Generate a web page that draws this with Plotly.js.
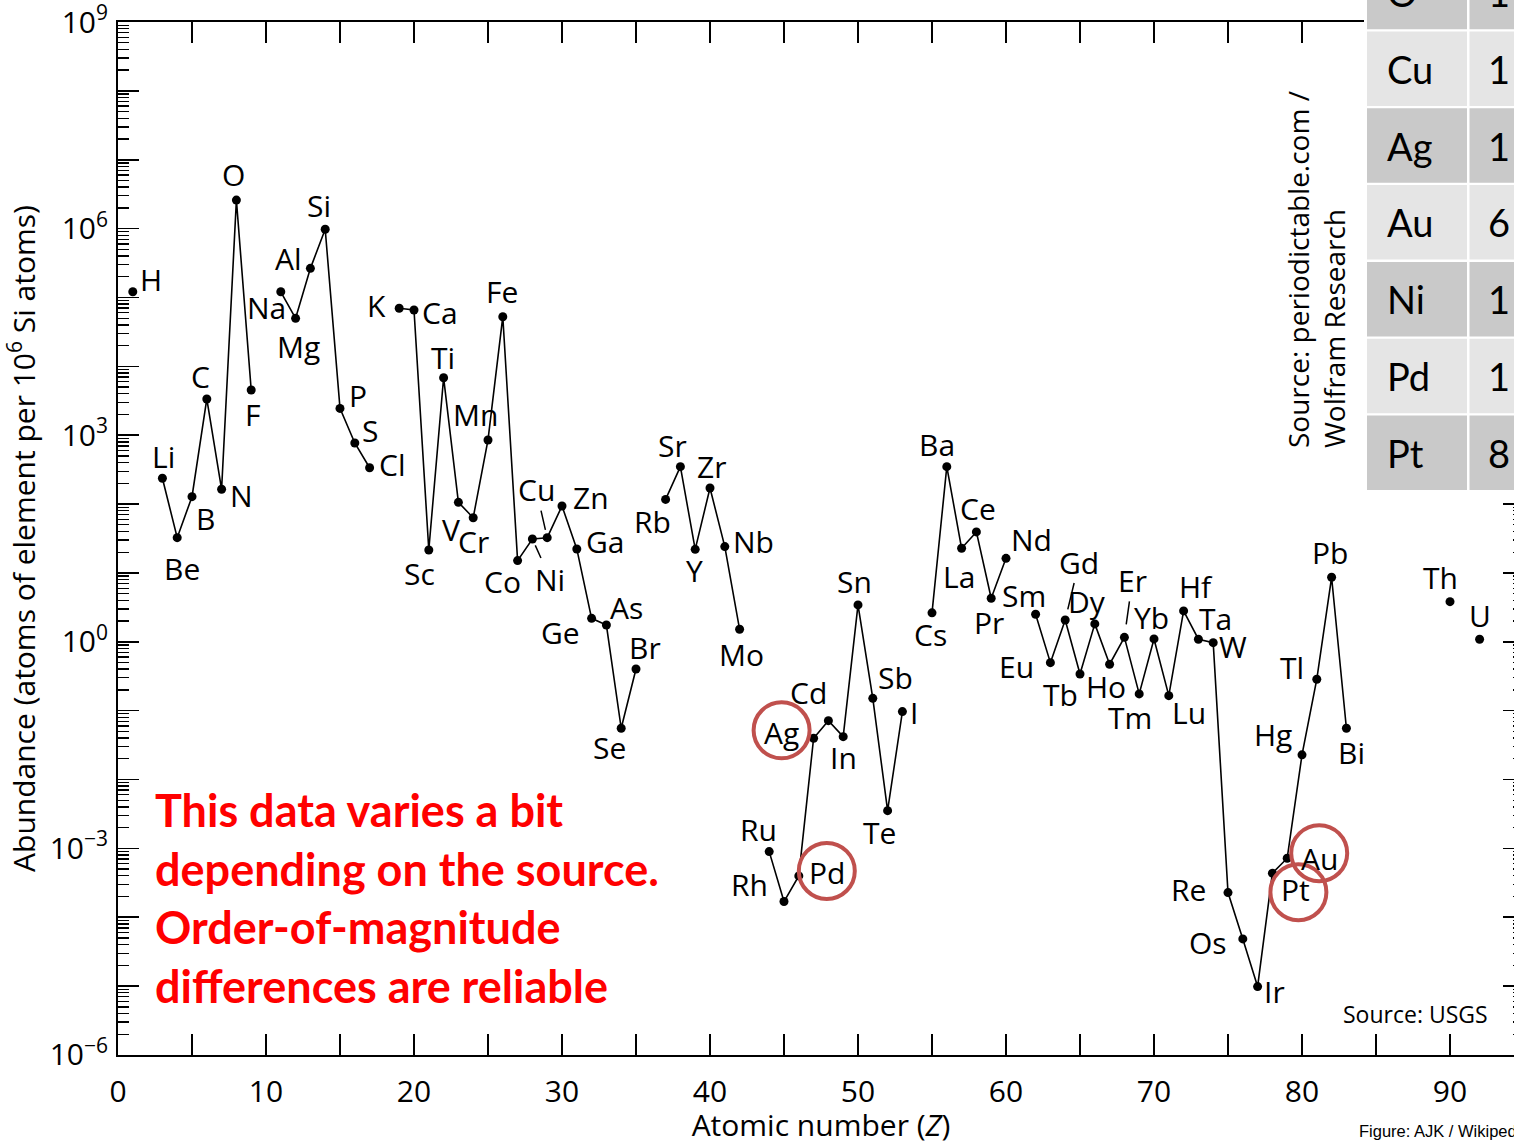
<!DOCTYPE html>
<html>
<head>
<meta charset="utf-8">
<script src="https://cdn.plot.ly/plotly-3.0.1.min.js"></script>
<style>
html,body{margin:0;padding:0;overflow:hidden;background:#fff;}
#chart{width:1530px;height:1145px;}
</style>
</head>
<body>
<div id="chart"></div>
<script>
// ---------------- DATA ----------------
const symbols = ['H','Li','Be','B','C','N','O','F','Na','Mg','Al','Si','P','S','Cl','K','Ca','Sc','Ti','V','Cr','Mn','Fe','Co','Ni','Cu','Zn','Ga','Ge','As','Se','Br','Rb','Sr','Y','Zr','Nb','Mo','Ru','Rh','Pd','Ag','Cd','In','Sn','Sb','Te','I','Cs','Ba','La','Ce','Pr','Nd','Sm','Eu','Gd','Tb','Dy','Ho','Er','Tm','Yb','Lu','Hf','Ta','W','Re','Os','Ir','Pt','Au','Hg','Tl','Pb','Bi','Th','U'];
const atomicNumber = [1,3,4,5,6,7,8,9,11,12,13,14,15,16,17,19,20,21,22,23,24,25,26,27,28,29,30,31,32,33,34,35,37,38,39,40,41,42,44,45,46,47,48,49,50,51,52,53,55,56,57,58,59,60,62,63,64,65,66,67,68,69,70,71,72,73,74,75,76,77,78,79,80,81,82,83,90,92];
const abundance = [1.21e5,237,32.5,128,3360,164,2.6e6,4540,1.21e5,4.98e4,2.65e5,9.8e5,2450,771,337,6.97e4,6.58e4,21.5,6840,106,63.4,853,5.26e4,15.1,31.1,32.5,93.8,22.3,2.19,1.75,0.0555,0.403,117,349,22.0,171,24.1,1.52,8.97e-4,1.69e-4,3.98e-4,0.0397,0.0716,0.0419,3.43,0.151,3.53e-3,0.0968,2.63,349,22.8,39.4,4.29,16.3,2.51,0.498,2.07,0.341,1.82,0.472,1.16,0.175,1.10,0.165,2.81,1.09,0.971,2.28e-4,4.84e-5,9.84e-6,4.36e-4,7.19e-4,0.0228,0.286,8.65,0.0555,3.83,1.09];
const highlighted = ['Ag','Pd','Au','Pt'];
const xTickVals = [0,10,20,30,40,50,60,70,80,90];
const yDecadeExponents = [-6,-5,-4,-3,-2,-1,0,1,2,3,4,5,6,7,8,9];
const yLabelledExponents = [-6,-3,0,3,6,9];
const tableElements = ['O','Cu','Ag','Au','Ni','Pd','Pt'];
const tableValues = ['1','1','1','6','1','1','8'];

// ---------------- STYLE ----------------
const FONT = 'Open Sans, Noto Sans, sans-serif';
const L = 118, R = 6, T = 22, B = 90, W = 1530, H = 1145;
const PW = W - L - R, PH = H - T - B;
const px2paperX = p => (p - L) / PW;
const px2paperY = p => (H - B - p) / PH;

// label offsets (pixels, dx right, dy down) relative to the point
const labelOffset = {
 H:[18,-12],Li:[1,-22],Be:[5,31],B:[13,22],C:[-6,-22],N:[20,6],O:[-3,-26],F:[1,25],
 Na:[-14,16],Mg:[3,28],Al:[-22,-10],Si:[-6,-24],P:[18,-13],S:[15,-12],Cl:[22,-3],
 K:[-23,-3],Ca:[26,2],Sc:[-9,23],Ti:[-1,-20],V:[-7,27],Cr:[0,24],Mn:[-13,-25],Fe:[-1,-25],
 Co:[-15,21],Zn:[29,-8],Ga:[28,-7],Ge:[-31,14],As:[20,-18],Se:[-12,19],Br:[9,-21],
 Rb:[-13,22],Sr:[-8,-21],Y:[-1,21],Zr:[1,-22],Nb:[29,-5],Mo:[2,25],
 Ru:[-11,-22],Rh:[-35,-17],Pd:[28,-3],Ag:[-32,-6],Cd:[-20,-28],In:[0,21],Sn:[-4,-23],
 Sb:[23,-21],Te:[-8,22],I:[12,1],Cs:[-2,22],Ba:[-10,-22],La:[-3,28],Ce:[2,-23],Pr:[-2,24],
 Nd:[25,-19],Sm:[-12,-19],Eu:[-34,4],Tb:[-20,21],Dy:[-8,-22],Ho:[-4,22],Tm:[-9,24],
 Yb:[-3,-21],Lu:[20,17],Hf:[12,-24],Ta:[17,-21],W:[20,4],Re:[-40,-3],Os:[-35,4],
 Ir:[17,5],Pt:[23,16],Au:[32,0],Hg:[-29,-20],Tl:[-25,-12],Pb:[-2,-25],Bi:[5,24],
 Th:[-10,-24],U:[0,-24]
};
// labels connected by short leader lines: [dx, dy, standoff]
const leaderLabels = {Cu:[-11,-48,8],Ni:[18,40,7],Gd:[14,-58,11],Er:[8,-57,13]};
// red circle centres relative to point
const circleOffset = {Ag:[-32,-8],Pd:[28,-5],Au:[32,-5],Pt:[26,19]};

// ---------------- BUILD ----------------
const lineX = [], lineY = [];
atomicNumber.forEach((z,i)=>{
  if(i>0 && z - atomicNumber[i-1] > 1){ lineX.push(null); lineY.push(null); }
  lineX.push(z); lineY.push(abundance[i]);
});

const trace = {
  type:'scatter', mode:'lines+markers', x:lineX, y:lineY,
  connectgaps:false,
  line:{color:'#000', width:1.6},
  marker:{color:'#000', size:9},
  hoverinfo:'skip', showlegend:false
};
// invisible helper trace on the linear (log10) companion axis
const helper = {type:'scatter', mode:'markers', x:atomicNumber, y:abundance.map(v=>Math.log10(v)),
  yaxis:'y2', marker:{opacity:0}, hoverinfo:'skip', showlegend:false};

const annotations = [];
symbols.forEach((s,i)=>{
  const x = atomicNumber[i], y = Math.log10(abundance[i]);
  if(leaderLabels[s]){
    const [dx,dy,so] = leaderLabels[s];
    annotations.push({x, y, xref:'x', yref:'y', text:s, showarrow:true, arrowhead:0,
      arrowwidth:1.5, arrowcolor:'#000', ax:dx, ay:dy, standoff:so, startstandoff:0,
      font:{family:FONT, size:30, color:'#000'}, xanchor:'center', yanchor:'middle', borderpad:0});
  } else {
    const [dx,dy] = labelOffset[s] || [0,-24];
    annotations.push({x, y, xref:'x', yref:'y', text:s, showarrow:false,
      xshift:dx, yshift:-dy, font:{family:FONT, size:30, color:'#000'},
      xanchor:'center', yanchor:'middle'});
  }
});

const shapes = [];
highlighted.forEach(s=>{
  const i = symbols.indexOf(s);
  const [cx,cy] = circleOffset[s];
  const r = 28;
  shapes.push({type:'circle', xref:'x', yref:'y2', xsizemode:'pixel', ysizemode:'pixel',
    xanchor:atomicNumber[i], yanchor:Math.log10(abundance[i]),
    x0:cx-r, x1:cx+r, y0:-cy-r, y1:-cy+r,
    line:{color:'#c0504d', width:4}, layer:'above'});
});

// table inset (top right)
shapes.push({type:'rect', xref:'paper', yref:'paper', x0:px2paperX(1364), x1:px2paperX(1545),
  y0:px2paperY(493), y1:px2paperY(-60), fillcolor:'#fff', line:{width:0}, layer:'above'});
const rowPitch = 76.8, rowH = 74.5, lastBottom = 490;
tableElements.forEach((el,k)=>{
  const bottom = lastBottom - (tableElements.length-1-k)*rowPitch;
  const top = bottom - rowH;
  const fill = (k%2===0) ? '#c9c9c9' : '#e5e5e5';
  shapes.push({type:'rect', xref:'paper', yref:'paper', x0:px2paperX(1367), x1:px2paperX(1467),
    y0:px2paperY(bottom), y1:px2paperY(top), fillcolor:fill, line:{width:0}, layer:'above'});
  shapes.push({type:'rect', xref:'paper', yref:'paper', x0:px2paperX(1469.5), x1:px2paperX(1545),
    y0:px2paperY(bottom), y1:px2paperY(top), fillcolor:fill, line:{width:0}, layer:'above'});
  const cyp = px2paperY((top+bottom)/2);
  annotations.push({xref:'paper', yref:'paper', x:px2paperX(1385), y:cyp, text:el, showarrow:false,
    xanchor:'left', yanchor:'middle', font:{family:'Lato, sans-serif', size:38, color:'#000'}});
  annotations.push({xref:'paper', yref:'paper', x:px2paperX(1486), y:cyp, text:tableValues[k], showarrow:false,
    xanchor:'left', yanchor:'middle', font:{family:'Lato, sans-serif', size:38, color:'#000'}});
});

// text notes
annotations.push({xref:'paper', yref:'paper', x:px2paperX(1316), y:px2paperY(270),
  text:'Source: periodictable.com /<br>Wolfram Research', textangle:-90, align:'left',
  showarrow:false, xanchor:'center', yanchor:'middle', font:{family:FONT, size:28, color:'#000'}});
annotations.push({xref:'paper', yref:'paper', x:px2paperX(1490), y:px2paperY(1014),
  text:'Source: USGS', showarrow:false, xanchor:'right', yanchor:'middle',
  font:{family:FONT, size:23, color:'#000'}});
annotations.push({xref:'paper', yref:'paper', x:px2paperX(1357), y:px2paperY(1131),
  text:'Figure: AJK / Wikipedia', showarrow:false, xanchor:'left', yanchor:'middle',
  font:{family:'Liberation Sans, Arial, sans-serif', size:16.5, color:'#000'}});
annotations.push({xref:'paper', yref:'paper', x:px2paperX(153), y:px2paperY(898),
  text:'This data varies a bit<br>depending on the source.<br>Order-of-magnitude<br>differences are reliable',
  showarrow:false, xanchor:'left', yanchor:'middle', align:'left',
  font:{family:'Lato, sans-serif', size:45, color:'#ff0000', weight:'bold'}});

// axes ticks
const yTickVals = yDecadeExponents.map(e=>Math.pow(10,e));
const yTickText = yDecadeExponents.map(e=> yLabelledExponents.includes(e) ?
  '10<sup>'+(e<0?'\u2212'+(-e):e)+'</sup>' : '');
const yMinorVals = [];
yDecadeExponents.slice(0,-1).forEach(e=>{ for(let k=2;k<=9;k++) yMinorVals.push(k*Math.pow(10,e)); });
const xMinorVals = xTickVals.map(v=>v+5);
const eps = 0.0008;

const layout = {
  width:W, height:H,
  margin:{l:L, r:R, t:T, b:B, autoexpand:false},
  paper_bgcolor:'#fff', plot_bgcolor:'#fff',
  font:{family:FONT, color:'#000'},
  showlegend:false,
  xaxis:{
    range:[0,95], tickvals:xTickVals, ticktext:xTickVals.map(String),
    ticks:'inside', ticklen:21, tickwidth:1.6, tickcolor:'#000',
    showline:true, linecolor:'#000', linewidth:2, mirror:'allticks',
    showgrid:false, zeroline:false,
    tickfont:{family:FONT, size:30, color:'#000'}, ticklabelstandoff:9,
    minor:{tickvals:xMinorVals, ticks:'inside', ticklen:11, tickwidth:1.6, tickcolor:'#000', showgrid:false},
    title:{text:'Atomic number (<i>Z</i>)', font:{family:FONT, size:30, color:'#000'}, standoff:17},
    automargin:false
  },
  yaxis:{
    type:'log', range:[-6-eps,9+eps], tickvals:yTickVals, ticktext:yTickText,
    ticks:'inside', ticklen:21, tickwidth:1.6, tickcolor:'#000',
    showline:true, linecolor:'#000', linewidth:2, mirror:'allticks',
    showgrid:false, zeroline:false, ticklabeloverflow:'allow',
    tickfont:{family:FONT, size:30, color:'#000'}, ticklabelstandoff:2,
    minor:{tickvals:yMinorVals, ticks:'inside', ticklen:11, tickwidth:1.4, tickcolor:'#000', showgrid:false},
    title:{text:'\u00a0\u00a0\u00a0\u00a0Abundance (atoms of element per 10<sup>6</sup> Si atoms)', font:{family:FONT, size:30, color:'#000'}, standoff:10},
    automargin:false
  },
  yaxis2:{overlaying:'y', range:[-6-eps,9+eps], visible:false, showgrid:false, zeroline:false, fixedrange:true},
  annotations, shapes
};

Plotly.newPlot('chart', [trace, helper], layout, {displayModeBar:false, staticPlot:true});
</script>
</body>
</html>
